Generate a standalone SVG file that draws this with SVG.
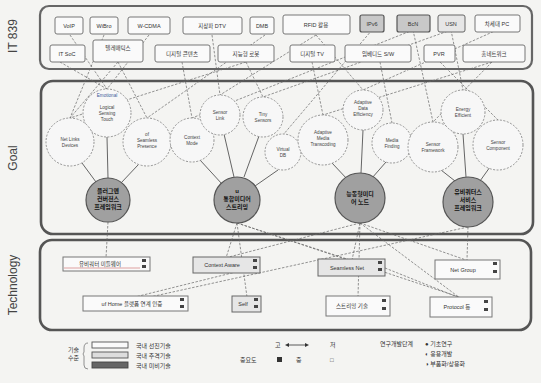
<svg xmlns="http://www.w3.org/2000/svg" width="541" height="383" viewBox="0 0 541 383">
<defs>
<style>
text{font-family:"Liberation Sans","Noto Sans CJK KR",sans-serif;fill:#333}
.lab{font-size:12px;fill:#444}
.bx{fill:#fafafa;stroke:#777;stroke-width:1}
.bxg{fill:#c8c8c8;stroke:#555;stroke-width:1.2}
.bxl{fill:#e6e6e6;stroke:#666;stroke-width:1}
.t{font-size:5.5px;text-anchor:middle}
.sc{fill:#f7f7f7;stroke:#888;stroke-width:0.9;stroke-dasharray:2 1.5}
.bc{fill:#a0a0a0;stroke:#555;stroke-width:1.2}
.bt{font-size:6px;text-anchor:middle;fill:#111;font-weight:bold}
.ct{font-size:4.6px;text-anchor:middle;fill:#444}
.d{fill:none;stroke:#666;stroke-width:0.7;stroke-dasharray:2.5 1.5}
.s{fill:none;stroke:#555;stroke-width:0.9}
.mk{fill:#444}
.lg{font-size:6px;fill:#333}
</style>
</defs>
<rect x="0" y="0" width="541" height="383" fill="#f4f4f2"/>

<g id="labels">
<text class="lab" transform="translate(17,36) rotate(-90)" text-anchor="middle">IT 839</text>
<text class="lab" transform="translate(17,158) rotate(-90)" text-anchor="middle">Goal</text>
<text class="lab" transform="translate(17,285) rotate(-90)" text-anchor="middle">Technology</text>
</g>

<g id="frames">
<rect x="40" y="6" width="492" height="63" rx="9" fill="none" stroke="#666" stroke-width="2.2"/>
<rect x="41" y="81" width="492" height="153" rx="12" fill="none" stroke="#555" stroke-width="2.6"/>
<rect x="40" y="240" width="491" height="90" rx="12" fill="none" stroke="#555" stroke-width="2.6"/>
</g>

<g id="connectors">
<path class="d" d="M70 35 L107 89"/>
<path class="d" d="M104 35 L70 118"/>
<path class="d" d="M149 35 L107 89"/>
<path class="d" d="M118 62 L147 118"/>
<path class="d" d="M118 62 L70 118"/>
<path class="d" d="M212 35 L220 95"/>
<path class="d" d="M182 62 L192 118"/>
<path class="d" d="M246 62 L263 97"/>
<path class="d" d="M265 35 L147 118"/>
<path class="d" d="M316 35 L363 90"/>
<path class="d" d="M316 35 L220 95"/>
<path class="d" d="M312 62 L323 115"/>
<path class="d" d="M372 30 L283 135"/>
<path class="d" d="M380 62 L392 123"/>
<path class="d" d="M413 30 L433 122"/>
<path class="d" d="M413 30 L192 118"/>
<path class="d" d="M451 30 L463 90"/>
<path class="d" d="M451 30 L263 97"/>
<path class="d" d="M440 62 L498 120"/>
<path class="d" d="M497 30 L363 90"/>
<path class="d" d="M492 62 L433 122"/>
<path class="d" d="M492 62 L323 115"/>
<path class="d" d="M60 62 L107 89"/>
<path class="d" d="M246 62 L70 118"/>
<path class="s" d="M107 137 L108 178"/>
<path class="s" d="M82 163 L96 182"/>
<path class="s" d="M138 165 L121 183"/>
<path class="s" d="M200 160 L222 184"/>
<path class="s" d="M224 134 L234 177"/>
<path class="s" d="M259 136 L244 177"/>
<path class="s" d="M278 170 L255 186"/>
<path class="s" d="M332 163 L348 180"/>
<path class="s" d="M363 130 L361 173"/>
<path class="s" d="M386 162 L372 178"/>
<path class="s" d="M441 170 L455 181"/>
<path class="s" d="M463 134 L466 177"/>
<path class="s" d="M490 167 L480 181"/>
<path class="d" d="M108 222 L106 258"/>
<path class="d" d="M237 223 L226 258"/>
<path class="d" d="M237 223 L350 260"/>
<path class="d" d="M237 223 L247 297"/>
<path class="d" d="M360 223 L352 260"/>
<path class="d" d="M360 223 L225 258"/>
<path class="d" d="M360 223 L466 260"/>
<path class="d" d="M360 223 L358 297"/>
<path class="d" d="M360 223 L460 298"/>
<path class="d" d="M468 227 L467 260"/>
<path class="d" d="M468 227 L150 297"/>
<path class="d" d="M237 223 L462 298"/>
<path class="d" d="M260 266 L135 297"/>
<path class="d" d="M385 268 L460 298"/>
</g>

<g id="it839">
<g id="n-voip"><rect class="bx" x="55" y="17" width="28" height="17" rx="2"/><text class="t" x="69" y="27.5">VoIP</text></g>
<g id="n-wibro"><rect class="bx" x="90" y="17" width="28" height="17" rx="2"/><text class="t" x="104" y="27.5">WiBro</text></g>
<g id="n-wcdma"><rect class="bx" x="128" y="17" width="42" height="17" rx="2"/><text class="t" x="149" y="27.5">W-CDMA</text></g>
<g id="n-dtv"><rect class="bx" x="183" y="17" width="59" height="17" rx="2"/><text class="t" x="212" y="27.5">지상파 DTV</text></g>
<g id="n-dmb"><rect class="bx" x="250" y="17" width="24" height="17" rx="2"/><text class="t" x="262" y="27.5">DMB</text></g>
<g id="n-rfid"><rect class="bx" x="283" y="15" width="67" height="19" rx="2"/><text class="t" x="316" y="27">RFID 활용</text></g>
<g id="n-ipv6"><rect class="bxg" x="360" y="15" width="24" height="17" rx="2"/><text class="t" x="372" y="25.5">IPv6</text></g>
<g id="n-bcn"><rect class="bxg" x="397" y="15" width="33" height="17" rx="2"/><text class="t" x="413" y="25.5">BcN</text></g>
<g id="n-usn"><rect class="bxl" x="438" y="15" width="27" height="17" rx="2"/><text class="t" x="451" y="25.5">USN</text></g>
<g id="n-pc"><rect class="bx" x="475" y="15" width="45" height="17" rx="2"/><text class="t" x="497" y="25.5">차세대 PC</text></g>
<g id="n-soc"><rect class="bx" x="50" y="45" width="35" height="17" rx="2"/><text class="t" x="67" y="55.5">IT SoC</text></g>
<g id="n-tele"><rect class="bx" x="93" y="40" width="50" height="22" rx="2"/><text class="t" x="118" y="50">텔레매틱스</text></g>
<g id="n-dc"><rect class="bx" x="155" y="45" width="55" height="17" rx="2"/><text class="t" x="182" y="55.5">디지털 콘텐츠</text></g>
<g id="n-robot"><rect class="bx" x="218" y="45" width="56" height="17" rx="2"/><text class="t" x="246" y="55.5">지능형 로봇</text></g>
<g id="n-mobile"><rect class="bx" x="290" y="45" width="45" height="17" rx="2"/><text class="t" x="312" y="55.5">디지털 TV</text></g>
<g id="n-emb"><rect class="bx" x="345" y="45" width="66" height="17" rx="2"/><text class="t" x="378" y="55.5">임베디드 S/W</text></g>
<g id="n-pvr"><rect class="bx" x="424" y="45" width="31" height="17" rx="2"/><text class="t" x="439" y="55.5">PVR</text></g>
<g id="n-home"><rect class="bx" x="463" y="45" width="62" height="17" rx="2"/><text class="t" x="494" y="55.5">홈네트워크</text></g>
</g>

<g id="goal-small">
<g id="c1"><circle class="sc" cx="107" cy="113" r="24"/><text class="ct" x="107" y="97" style="fill:#3a5a9a">Emotional</text><text class="ct" x="107" y="109">Logical</text><text class="ct" x="107" y="115">Sensing</text><text class="ct" x="107" y="121">Touch</text></g>
<g id="c2"><circle class="sc" cx="70" cy="142" r="24"/><text class="ct" x="70" y="141">Net Links</text><text class="ct" x="70" y="147">Devices</text></g>
<g id="c3"><circle class="sc" cx="147" cy="142" r="24"/><text class="ct" x="147" y="136">of</text><text class="ct" x="147" y="142">Seamless</text><text class="ct" x="147" y="148">Presence</text></g>
<g id="c4"><circle class="sc" cx="192" cy="140" r="22"/><text class="ct" x="192" y="139">Context</text><text class="ct" x="192" y="145">Mode</text></g>
<g id="c5"><circle class="sc" cx="220" cy="115" r="20"/><text class="ct" x="220" y="114">Sensor</text><text class="ct" x="220" y="120">Link</text></g>
<g id="c6"><circle class="sc" cx="263" cy="117" r="20"/><text class="ct" x="263" y="116">Tiny</text><text class="ct" x="263" y="122">Sensors</text></g>
<g id="c7"><circle class="sc" cx="283" cy="152" r="18"/><text class="ct" x="283" y="151">Virtual</text><text class="ct" x="283" y="157">DB</text></g>
<g id="c8"><circle class="sc" cx="323" cy="140" r="25"/><text class="ct" x="323" y="134">Adaptive</text><text class="ct" x="323" y="140">Media</text><text class="ct" x="323" y="146">Transcoding</text></g>
<g id="c9"><circle class="sc" cx="363" cy="110" r="20"/><text class="ct" x="363" y="104">Adaptive</text><text class="ct" x="363" y="110">Data</text><text class="ct" x="363" y="116">Efficiency</text></g>
<g id="c10"><circle class="sc" cx="392" cy="143" r="20"/><text class="ct" x="392" y="142">Media</text><text class="ct" x="392" y="148">Finding</text></g>
<g id="c11"><circle class="sc" cx="433" cy="147" r="25"/><text class="ct" x="433" y="146">Sensor</text><text class="ct" x="433" y="152">Framework</text></g>
<g id="c12"><circle class="sc" cx="463" cy="112" r="22"/><text class="ct" x="463" y="111">Energy</text><text class="ct" x="463" y="117">Efficient</text></g>
<g id="c13"><circle class="sc" cx="498" cy="145" r="25"/><text class="ct" x="498" y="144">Sensor</text><text class="ct" x="498" y="150">Component</text></g>
</g>

<g id="goal-big">
<g id="g1"><circle class="bc" cx="108" cy="200" r="22"/><text class="bt" x="108" y="193">플러그앤</text><text class="bt" x="108" y="201">컨버전스</text><text class="bt" x="108" y="209">프레임워크</text></g>
<g id="g2"><circle class="bc" cx="237" cy="200" r="23"/><text class="bt" x="237" y="193">u</text><text class="bt" x="237" y="201">통합미디어</text><text class="bt" x="237" y="209">스트리밍</text></g>
<g id="g3"><circle class="bc" cx="360" cy="198" r="25"/><text class="bt" x="360" y="196">능동형미디</text><text class="bt" x="360" y="204">어 노드</text></g>
<g id="g4"><circle class="bc" cx="468" cy="202" r="25"/><text class="bt" x="468" y="194">유비쿼터스</text><text class="bt" x="468" y="202">서비스</text><text class="bt" x="468" y="210">프레임워크</text></g>
</g>

<g id="technology">
<g id="t1"><rect class="bx" x="63" y="257" width="87" height="14"/><line x1="64" y1="268" x2="140" y2="268" stroke="#c66" stroke-width="0.6"/><text class="t" x="100" y="266">유비쿼터 미들웨어</text><rect class="mk" x="142" y="259" width="4" height="3"/><rect class="mk" x="142" y="265" width="4" height="3"/></g>
<g id="t2"><rect class="bxl" x="193" y="257" width="67" height="16"/><text class="t" x="222" y="267">Context Aware</text><rect class="mk" x="253" y="259" width="4" height="3"/><rect class="mk" x="253" y="266" width="4" height="3"/></g>
<g id="t3"><rect class="bxl" x="318" y="259" width="67" height="17"/><text class="t" x="347" y="270">Seamless Net</text><rect class="mk" x="378" y="261" width="4" height="3"/><rect class="mk" x="378" y="268" width="4" height="3"/></g>
<g id="t4"><rect class="bx" x="435" y="260" width="65" height="19"/><text class="t" x="463" y="272">Net Group</text><rect class="mk" x="493" y="262" width="4" height="3"/><rect class="mk" x="493" y="270" width="4" height="3"/></g>
<g id="t5"><rect class="bx" x="83" y="296" width="105" height="15"/><text class="t" x="132" y="306">uf Home 플랫폼 연계 인증</text><rect class="mk" x="180" y="298" width="4" height="3"/><rect class="mk" x="180" y="305" width="4" height="3"/></g>
<g id="t6"><rect class="bxl" x="232" y="296" width="29" height="16"/><text class="t" x="243" y="306">Self</text><rect class="mk" x="254" y="298" width="4" height="3"/><rect class="mk" x="254" y="305" width="4" height="3"/></g>
<g id="t7"><rect class="bx" x="326" y="296" width="64" height="20"/><text class="t" x="352" y="308">스트리밍 기술</text><rect class="mk" x="382" y="299" width="4" height="3"/><rect class="mk" x="382" y="307" width="4" height="3"/></g>
<g id="t8"><rect class="bx" x="430" y="297" width="62" height="20"/><text class="t" x="457" y="309">Protocol 등</text><rect class="mk" x="484" y="300" width="4" height="3"/><rect class="mk" x="484" y="308" width="4" height="3"/></g>
</g>

<g id="legend">
<text class="lg" x="68" y="352">기술</text>
<text class="lg" x="68" y="360">수준</text>
<path d="M88 343 Q84 343 84 348 L84 352 Q82 354 84 356 L84 365 Q84 369 88 369" fill="none" stroke="#777" stroke-width="0.8"/>
<rect x="92" y="342" width="36" height="6" fill="#fafafa" stroke="#555" stroke-width="0.9"/>
<rect x="92" y="352" width="36" height="6" fill="#ddd" stroke="#555" stroke-width="0.9"/>
<rect x="92" y="362" width="36" height="6" fill="#666" stroke="#444" stroke-width="0.9"/>
<text class="lg" x="136" y="348">국내 선진기술</text>
<text class="lg" x="136" y="358">국내 추격기술</text>
<text class="lg" x="136" y="368">국내 미비기술</text>
<text class="lg" x="275" y="347">고</text>
<path d="M287 345 L307 345" stroke="#333" stroke-width="0.8"/>
<path d="M289 343 L285 345 L289 347 Z M305 343 L309 345 L305 347 Z" fill="#333"/>
<text class="lg" x="330" y="347">저</text>
<text class="lg" x="240" y="362">중요도</text>
<rect x="277" y="357" width="5" height="5" fill="#333"/>
<text class="lg" x="296" y="362">중</text>
<text class="lg" x="330" y="362">□</text>
<text class="lg" x="380" y="346">연구개발단계</text>
<text class="lg" x="425" y="346">● 기초연구</text>
<text class="lg" x="425" y="356">◐ 응용개발</text>
<text class="lg" x="425" y="366">◑ 부품화/상용화</text>
</g>
</svg>
